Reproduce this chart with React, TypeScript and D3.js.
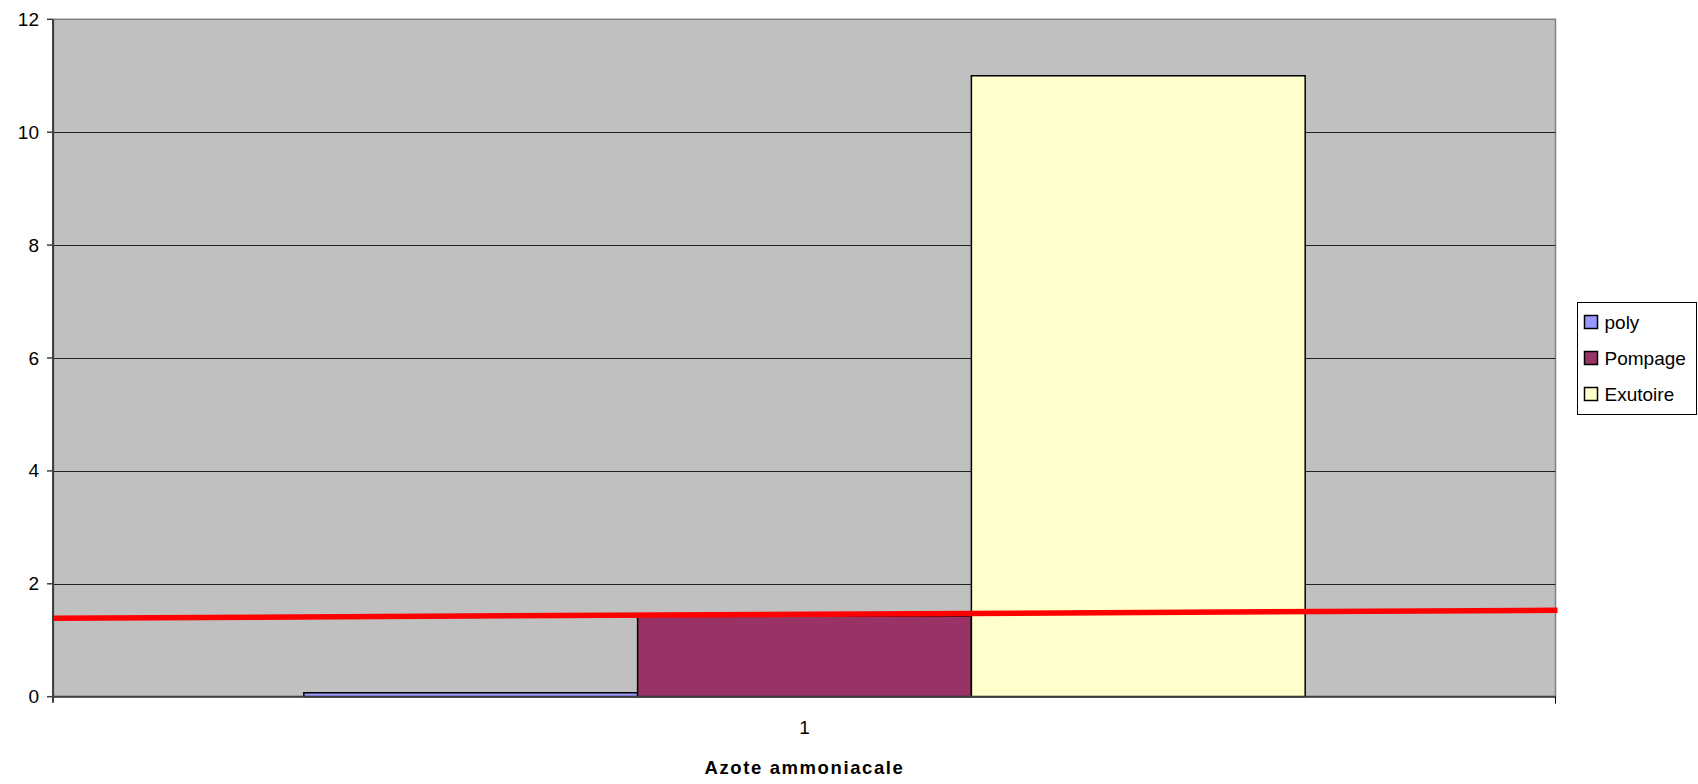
import React from "react";
import * as d3 from "d3";

const categories = ["1"];
const seriesNames = ["poly", "Pompage", "Exutoire"];
const seriesValues = [0.07, 1.43, 11.0];
const yTicks = [0, 2, 4, 6, 8, 10, 12];
// red threshold line: value at left edge, value at right edge
const refLine = [1.39, 1.53];
const axisTitle = "Azote ammoniacale";

const colors = ["#9999FF", "#993366", "#FFFFCC"];
const font = "'Liberation Sans', Arial, sans-serif";

export default function App() {
  const width = 1698,
    height = 784;
  const plot = { left: 53.5, right: 1555.5, top: 19.3, bottom: 696.7 };

  const y = d3.scaleLinear().domain([0, 12]).range([plot.bottom, plot.top]);
  const x0 = d3.scaleBand().domain(categories).range([plot.left, plot.right]);
  const x1 = d3
    .scaleBand()
    .domain(seriesNames)
    .range([0, x0.bandwidth()])
    .paddingInner(0)
    .paddingOuter(0.75);

  const lineX = d3.scaleLinear().domain([0, 1]).range([plot.left, plot.right + 2]);
  const redPath = d3
    .line<number>()
    .x((_, i) => lineX(i))
    .y((d) => y(d))(refLine);

  return (
    <svg
      width={width}
      height={height}
      style={{ position: "absolute", left: 0, top: 0, background: "#fff" }}
      fontFamily={font}
    >
      {/* plot area */}
      <rect
        x={plot.left}
        y={plot.top}
        width={plot.right - plot.left}
        height={plot.bottom - plot.top}
        fill="#C0C0C0"
        stroke="#808080"
        strokeWidth={1.5}
      />

      {/* grid lines */}
      {yTicks
        .filter((t) => t > 0 && t < 12)
        .map((t) => (
          <line
            key={t}
            x1={plot.left}
            x2={plot.right}
            y1={Math.round(y(t)) + 0.5}
            y2={Math.round(y(t)) + 0.5}
            stroke="#222"
            strokeWidth={1}
          />
        ))}

      {/* bars */}
      {categories.map((c) => (
        <g key={c} transform={`translate(${x0(c)},0)`}>
          {seriesNames.map((s, i) => (
            <rect
              key={s}
              x={x1(s)}
              y={y(seriesValues[i])}
              width={x1.bandwidth()}
              height={y(0) - y(seriesValues[i])}
              fill={colors[i]}
              stroke="#000"
              strokeWidth={1.5}
            />
          ))}
        </g>
      ))}

      {/* red line */}
      <path d={redPath ?? ""} fill="none" stroke="#FF0000" strokeWidth={5.5} />

      {/* y axis */}
      <line x1={53} x2={53} y1={plot.top} y2={plot.bottom + 6} stroke="#404040" strokeWidth={2} />
      {yTicks.map((t) => (
        <g key={t}>
          <line x1={47} x2={53} y1={y(t)} y2={y(t)} stroke="#404040" strokeWidth={1.5} />
          <text
            x={39}
            y={y(t)}
            textAnchor="end"
            dominantBaseline="central"
            fontSize={19}
            fill="#000"
          >
            {t}
          </text>
        </g>
      ))}

      {/* x axis */}
      <line
        x1={plot.left}
        x2={plot.right}
        y1={plot.bottom}
        y2={plot.bottom}
        stroke="#404040"
        strokeWidth={2}
      />
      <line x1={plot.right} x2={plot.right} y1={plot.bottom} y2={plot.bottom + 7} stroke="#000" strokeWidth={1} />
      {categories.map((c) => (
        <text
          key={c}
          x={(x0(c) ?? 0) + x0.bandwidth() / 2}
          y={727}
          textAnchor="middle"
          dominantBaseline="central"
          fontSize={19}
        >
          {c}
        </text>
      ))}
      <text
        x={(plot.left + plot.right) / 2}
        y={774}
        textAnchor="middle"
        fontSize={18.5}
        fontWeight="bold"
        letterSpacing={1.6}
      >
        {axisTitle}
      </text>

      {/* legend */}
      <rect x={1577.5} y={302.5} width={119} height={112} fill="#fff" stroke="#000" strokeWidth={1} />
      {seriesNames.map((s, i) => (
        <g key={s} transform={`translate(1584.5, ${315.5 + i * 36})`}>
          <rect width={13} height={13} fill={colors[i]} stroke="#000" strokeWidth={1.5} />
          <text x={20} y={6.5} dominantBaseline="central" fontSize={19}>
            {s}
          </text>
        </g>
      ))}
    </svg>
  );
}
